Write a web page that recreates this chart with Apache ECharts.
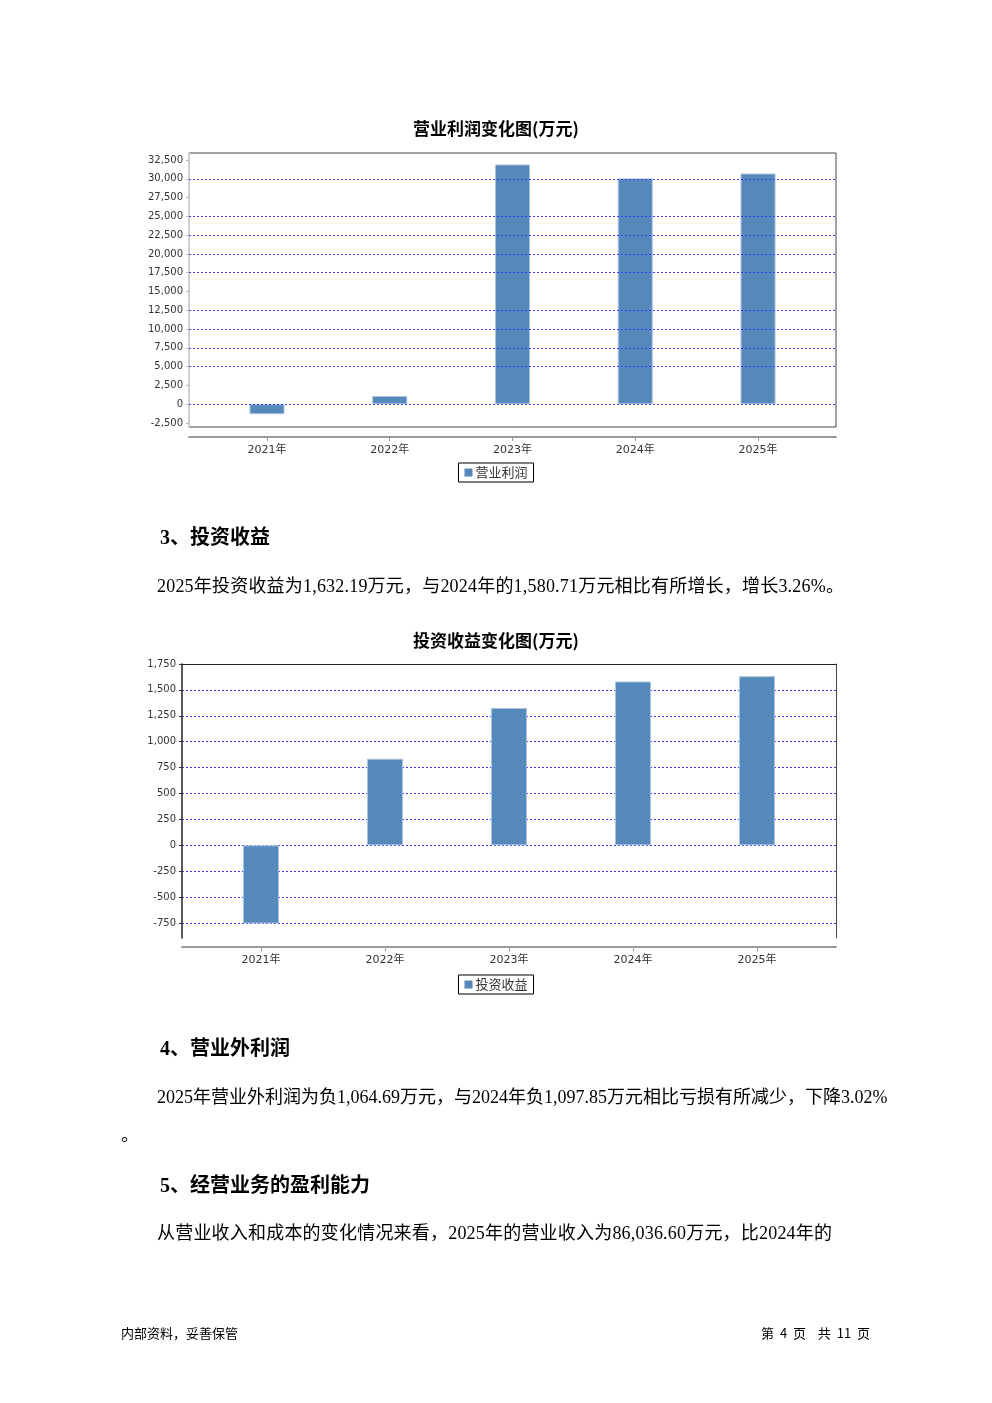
<!DOCTYPE html>
<html>
<head>
<meta charset="utf-8">
<script src="https://cdn.jsdelivr.net/npm/echarts@6/dist/echarts.min.js"></script>
<style>
  html, body { margin: 0; padding: 0; background: #fff; }
  #page { position: relative; width: 992px; height: 1403px; overflow: hidden; }
  #chart { position: absolute; left: 0; top: 0; width: 992px; height: 1403px; }
  .t { position: absolute; white-space: nowrap; color: #000;
       font-family: "Liberation Serif", "Noto Sans CJK SC", serif; }
  .h { font-size: 20px; font-weight: bold; line-height: 24px; }
  .p { font-size: 18px; line-height: 24px; }
  .f { font-size: 13px; line-height: 16px; font-family: "Noto Sans CJK SC", "Liberation Serif", sans-serif; }
</style>
</head>
<body>
<div id="page">
  <div id="chart"></div>
  <div class="t h" style="left:160px; top:525px;">3、投资收益</div>
  <div class="t p" style="left:157px; top:574px; letter-spacing:0.2px;">2025年投资收益为1,632.19万元，与2024年的1,580.71万元相比有所增长，增长3.26%。</div>
  <div class="t h" style="left:160px; top:1036px;">4、营业外利润</div>
  <div class="t p" style="left:157px; top:1085px;">2025年营业外利润为负1,064.69万元，与2024年负1,097.85万元相比亏损有所减少，下降3.02%</div>
  <div class="t p" style="left:121px; top:1123px;">。</div>
  <div class="t h" style="left:160px; top:1173px;">5、经营业务的盈利能力</div>
  <div class="t p" style="left:157px; top:1221px; letter-spacing:0.2px;">从营业收入和成本的变化情况来看，2025年的营业收入为86,036.60万元，比2024年的</div>
  <div class="t f" style="left:121px; top:1325px;">内部资料，妥善保管</div>
  <div class="t f" style="left:761px; top:1325px; word-spacing:3px;">第 4 页&nbsp; 共 11 页</div>
</div>
<script>
// ---- data ----
const years = ['2021年', '2022年', '2023年', '2024年', '2025年'];
const opProfit = [-1330, 1100, 31900, 30050, 30700];          // 营业利润 (万元)
const invIncome = [-780, 835, 1325, 1580.71, 1632.19];        // 投资收益 (万元)
const opAxis = { min: -2500, max: 32500, step: 2500 };
const invAxis = { min: -750, max: 1750, step: 250 };
// gridlines that are visible in the first chart
const opGridlines = [30000, 25000, 22500, 20000, 17500, 12500, 10000, 7500, 5000, 0];
const titles = ['营业利润变化图(万元)', '投资收益变化图(万元)'];
const seriesNames = ['营业利润', '投资收益'];

// ---- styles ----
const BAR = '#5589bc';
const GRID_LS = { color: '#3c3cf2', type: [2, 2], width: 1 };
const labelFont = { fontFamily: 'DejaVu Sans, Noto Sans CJK SC', fontSize: 10, color: '#333' };
const catFont = { fontFamily: 'DejaVu Sans, Noto Sans CJK SC', fontSize: 11, color: '#333' };
const fmt = v => Number(v).toLocaleString('en-US');
const hidden = (min, max, gi) => ({ type: 'value', min, max, show: false, gridIndex: gi });

function lineOnly(extra, color, width) {
  return Object.assign({
    type: 'value', min: 0, max: 1,
    axisLine: { show: true, onZero: false, lineStyle: { color, width } },
    axisLabel: { show: false }, axisTick: { show: false }, splitLine: { show: false }
  }, extra);
}
function catAxis(gi, offset) {
  return { type: 'category', gridIndex: gi, data: years, offset,
    axisLine: { show: false, onZero: false },
    axisTick: { show: true, alignWithLabel: true, length: 4, lineStyle: { color: '#999' } },
    axisLabel: Object.assign({ margin: 8 }, catFont), splitLine: { show: false } };
}

const legendBase = {
  left: 'center', icon: 'rect', itemWidth: 8, itemHeight: 8,
  itemGap: 4, padding: [3, 6, 3, 6], borderColor: '#000', borderWidth: 1,
  itemStyle: { borderWidth: 0 },
  textStyle: { fontSize: 13, color: '#333', fontFamily: 'Noto Sans CJK SC', padding: [0, 0, 0, -2] }
};
const titleStyle = { fontSize: 17, fontWeight: 'bold', color: '#000', fontFamily: 'Noto Sans CJK SC' };

const chart = echarts.init(document.getElementById('chart'), null, { renderer: 'canvas' });

const option = {
  animation: false,
  backgroundColor: '#fff',
  title: [
    { text: titles[0], left: 'center', top: 120, padding: 0, textStyle: titleStyle },
    { text: titles[1], left: 'center', top: 632, padding: 0, textStyle: titleStyle }
  ],
  legend: [
    Object.assign({ data: [seriesNames[0]], top: 463 }, legendBase),
    Object.assign({ data: [seriesNames[1]], top: 975 }, legendBase)
  ],
  grid: [
    // chart 1
    { left: 189, top: 153, width: 647, height: 274, show: true, borderColor: '#444', borderWidth: 1 }, // 0 frame
    { left: 189, top: 160, width: 647, height: 263 },     // 1 value scale
    { left: 205.6, top: 160, width: 613.8, height: 263 }, // 2 bars
    // chart 2
    { left: 182, top: 664, width: 654, height: 274 },     // 3 frame
    { left: 182, top: 664, width: 654, height: 259 },     // 4 value scale
    { left: 199, top: 664, width: 620, height: 259 }      // 5 bars
  ],
  xAxis: [
    // 0
    hidden(0, 1, 0),
    // 1: chart1 bottom axis line (below the frame)
    lineOnly({ gridIndex: 1, position: 'bottom', offset: 14 }, '#999', 2),
    // 2: chart1 categories
    catAxis(2, 14),
    // 3: chart2 top border
    lineOnly({ gridIndex: 3, position: 'top' }, '#222', 1),
    // 4: chart2 bottom axis line
    lineOnly({ gridIndex: 3, position: 'bottom', offset: 9 }, '#999', 2),
    // 5
    hidden(0, 1, 4),
    // 6: chart2 categories
    catAxis(5, 24)
  ],
  yAxis: [
    // 0: chart1 left line (light grey)
    lineOnly({ gridIndex: 0, position: 'left' }, '#cfcfcf', 2),
    // 1: chart1 value scale
    { type: 'value', gridIndex: 1, min: opAxis.min, max: opAxis.max, interval: opAxis.step,
      axisLine: { show: false, onZero: false },
      axisTick: { show: true, length: 3, lineStyle: { color: '#bbb' } },
      axisLabel: Object.assign({ margin: 6, formatter: fmt }, labelFont),
      splitLine: { show: false } },
    // 2: chart1 bars
    hidden(opAxis.min, opAxis.max, 2),
    // 3: chart2 left line
    lineOnly({ gridIndex: 3, position: 'left' }, '#222', 1.5),
    // 4: chart2 right line
    lineOnly({ gridIndex: 3, position: 'right' }, '#444', 1),
    // 5: chart2 value scale
    { type: 'value', gridIndex: 4, min: invAxis.min, max: invAxis.max, interval: invAxis.step,
      axisLine: { show: false, onZero: false },
      axisTick: { show: true, length: 3, lineStyle: { color: '#333' } },
      axisLabel: Object.assign({ margin: 6, formatter: fmt }, labelFont),
      splitLine: { show: true, lineStyle: GRID_LS } },
    // 6: chart2 bars
    hidden(invAxis.min, invAxis.max, 5)
  ],
  series: [
    // chart1 gridlines (only those visible in the reference), drawn on the full-width value grid
    { name: 'grid1', type: 'line', xAxisIndex: 1, yAxisIndex: 1, data: [[0.5, 0]],
      symbol: 'none', lineStyle: { opacity: 0 }, silent: true, z: 1,
      markLine: { silent: true, symbol: 'none', animation: false,
        label: { show: false }, lineStyle: GRID_LS,
        data: opGridlines.map(v => ({ yAxis: v })) } },
    { name: seriesNames[0], type: 'bar', xAxisIndex: 2, yAxisIndex: 2, data: opProfit, z: 3,
      barWidth: 35, itemStyle: { color: BAR, borderColor: '#a9c2de', borderWidth: 1 } },
    { name: seriesNames[1], type: 'bar', xAxisIndex: 6, yAxisIndex: 6, data: invIncome, z: 3,
      barWidth: 36, itemStyle: { color: BAR, borderColor: '#a9c2de', borderWidth: 1 } }
  ]
};

chart.setOption(option);
</script>
</body>
</html>
